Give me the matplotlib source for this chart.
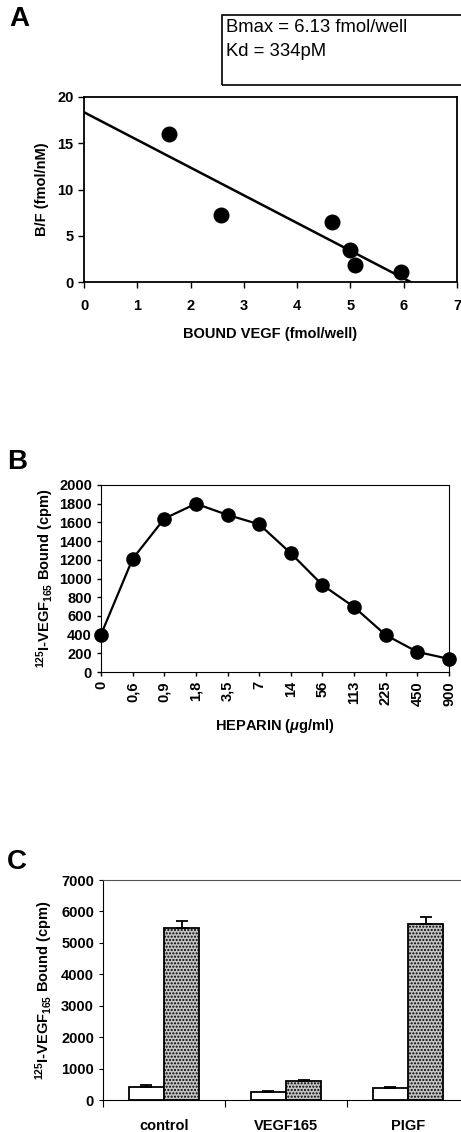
import matplotlib
matplotlib.use("Agg")
import matplotlib.pyplot as plt
import numpy as np

plt.rcParams['font.family'] = ['Liberation Sans', 'DejaVu Sans']
plt.rcParams['font.weight'] = 'bold'
plt.rcParams['axes.labelweight'] = 'bold'
plt.rcParams['mathtext.fontset'] = 'custom'
plt.rcParams['mathtext.rm'] = 'Liberation Sans:bold'
plt.rcParams['mathtext.bf'] = 'Liberation Sans:bold'
plt.rcParams['mathtext.it'] = 'Liberation Sans:italic:bold'

# panel A: Scatchard plot
bound = [1.6, 2.57, 4.65, 5.0, 5.08, 5.95]
bf = [16.0, 7.2, 6.5, 3.5, 1.8, 1.1]
bmax = 6.13
kd = 0.334  # nM

# panel B: heparin dose response
heparin_labels = ["0", "0,6", "0,9", "1,8", "3,5", "7", "14", "56", "113", "225", "450", "900"]
heparin_bound = [400, 1210, 1640, 1800, 1680, 1580, 1270, 930, 695, 395, 215, 140]

# panel C: competition
groups = ["control", "VEGF165", "PlGF"]
white_vals = [420, 250, 370]
white_err = [50, 30, 30]
dotted_vals = [5480, 590, 5590]
dotted_err = [230, 50, 230]

fig = plt.figure(figsize=(4.61, 11.32), dpi=100)
W, H = 461.0, 1132.0

def px_axes(l, t, r, b):
    return fig.add_axes([l / W, 1 - b / H, (r - l) / W, (b - t) / H])

tick_fs = 10.5
lab_fs = 10.5

# ---------- A ----------
ax1 = px_axes(84, 97, 457, 282)
ax1.plot(bound, bf, 'o', color='black', markersize=10.5, zorder=3)
xl = np.array([0, bmax])
ax1.plot(xl, (bmax - xl) / kd, color='black', lw=1.8)
ax1.set_xlim(0, 7)
ax1.set_ylim(0, 20)
ax1.set_xticks(range(0, 8))
ax1.set_yticks([0, 5, 10, 15, 20])
ax1.tick_params(direction='out', length=4, labelsize=tick_fs, width=1)
ax1.tick_params(axis='x', pad=8)
ax1.set_xlabel("BOUND VEGF (fmol/well)", fontsize=lab_fs, labelpad=10)
ax1.set_ylabel("B/F (fmol/nM)", fontsize=lab_fs, labelpad=6)
for s in ax1.spines.values():
    s.set_linewidth(1.3)

fig.patches.append(plt.Rectangle((222 / W, 1 - 85 / H), 245 / W, 70 / H,
                                 transform=fig.transFigure, fill=False,
                                 edgecolor='black', lw=1.2))
fig.text(226 / W, 1 - 28 / H, "Bmax = 6.13 fmol/well", fontsize=13.3,
         fontweight='normal', va='center', ha='left')
fig.text(226 / W, 1 - 52 / H, "Kd = 334pM", fontsize=13.3,
         fontweight='normal', va='center', ha='left')
fig.text(9 / W, 1 - 19 / H, "A", fontsize=20, fontweight='bold', va='center')

# ---------- B ----------
ax2 = px_axes(101, 485, 449, 672)
xb = np.arange(len(heparin_labels))
ax2.plot(xb, heparin_bound, '-o', color='black', markersize=9.5, lw=1.6,
         clip_on=False, zorder=3)
ax2.set_xlim(0, len(heparin_labels) - 1)
ax2.set_ylim(0, 2000)
ax2.set_yticks(range(0, 2001, 200))
ax2.set_xticks(xb)
ax2.set_xticklabels(heparin_labels, rotation=90)
ax2.tick_params(direction='out', length=3, labelsize=tick_fs, width=1)
ax2.set_xlabel(r"HEPARIN ($\mu$g/ml)", fontsize=lab_fs, labelpad=8)
ax2.set_ylabel(r"$^{125}$I-VEGF$_{165}$ Bound (cpm)", fontsize=lab_fs, labelpad=2)
for s in ax2.spines.values():
    s.set_linewidth(0.8)
fig.text(7 / W, 1 - 462 / H, "B", fontsize=20, fontweight='bold', va='center')

# ---------- C ----------
ax3 = px_axes(103, 880, 469, 1100)
xc = np.arange(len(groups))
bw = 0.29
ax3.bar(xc - bw / 2, white_vals, bw, color='white', edgecolor='black', lw=1.3,
        yerr=[[0] * 3, white_err], capsize=4,
        error_kw=dict(elinewidth=1.3, capthick=1.3))
ax3.bar(xc + bw / 2, dotted_vals, bw, color='#c4c4c4', edgecolor='black', lw=1.3,
        hatch='.....', yerr=[[0] * 3, dotted_err], capsize=4,
        error_kw=dict(elinewidth=1.3, capthick=1.3))
ax3.set_xlim(-0.5, len(groups) - 0.5)
ax3.set_ylim(0, 7000)
ax3.set_yticks(range(0, 7001, 1000))
ax3.set_xticks(xc)
ax3.set_xticklabels(["control", "VEGF165", "PIGF"])
ax3.set_xticks(np.arange(-0.5, len(groups), 1.0), minor=True)
ax3.tick_params(axis='x', which='major', length=0, pad=14, labelsize=lab_fs)
ax3.tick_params(axis='x', which='minor', direction='out', length=5, width=0.8)
ax3.tick_params(axis='y', direction='out', length=3, labelsize=tick_fs, width=0.8)
ax3.set_ylabel(r"$^{125}$I-VEGF$_{165}$ Bound (cpm)", fontsize=lab_fs, labelpad=4)
for s in ax3.spines.values():
    s.set_linewidth(0.8)
ax3.spines['top'].set_color('#555555')
fig.text(7 / W, 1 - 862 / H, "C", fontsize=20, fontweight='bold', va='center')

fig.savefig("out.png", dpi=100)
